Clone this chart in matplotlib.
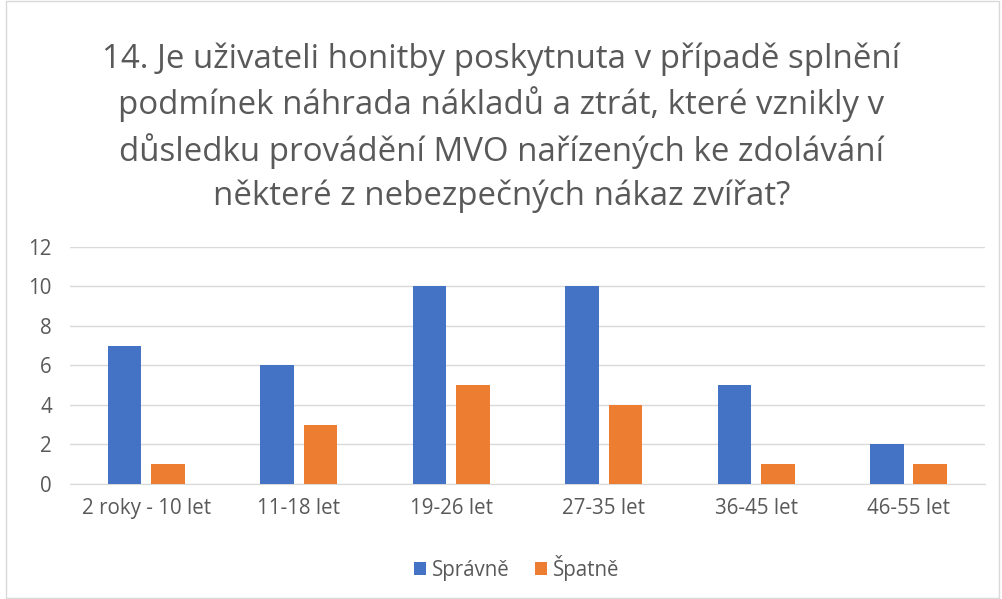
import numpy as np
import matplotlib.pyplot as plt
from matplotlib.patches import Rectangle

plt.rcParams['font.family'] = ['Open Sans', 'DejaVu Sans']

categories = ["2 roky - 10 let", "11-18 let", "19-26 let", "27-35 let", "36-45 let", "46-55 let"]
spravne = [7, 6, 10, 10, 5, 2]
spatne = [1, 3, 5, 4, 1, 1]

title = ("14. Je uživateli honitby poskytnuta v případě splnění\n"
         "podmínek náhrada nákladů a ztrát, které vznikly v\n"
         "důsledku provádění MVO nařízených ke zdolávání\n"
         "některé z nebezpečných nákaz zvířat?")

fig = plt.figure(figsize=(10.03, 5.99), dpi=100)
ax = fig.add_axes([0.0698, 0.192, 0.912, 0.3957])

x = np.arange(len(categories))
w = 0.22
off = 0.1425
ax.bar(x - off, spravne, w, color="#4472C4", label="Správně", zorder=3)
ax.bar(x + off, spatne, w, color="#ED7D31", label="Špatně", zorder=3)

ax.set_ylim(0, 12)
ax.set_yticks(range(0, 13, 2))
ax.set_xlim(-0.5, len(categories) - 0.5)
ax.set_xticks(x)
ax.set_xticklabels(categories)
ax.grid(axis="y", color="#D9D9D9", linewidth=1, zorder=0)
for s in ["top", "right", "left"]:
    ax.spines[s].set_visible(False)
ax.spines["bottom"].set_color("#D9D9D9")
ax.tick_params(axis="both", length=0, labelsize=14.8, colors="#595959")
ax.tick_params(axis="x", pad=10)
ax.tick_params(axis="y", pad=13)

fig.text(0.5, 0.787, title, ha="center", va="center", fontsize=23.8,
         color="#595959", linespacing=1.4)

fig.legend(loc="center", bbox_to_anchor=(0.515, 0.052), ncol=2, frameon=False,
           fontsize=14.8, labelcolor="#595959", handlelength=0.6, handleheight=0.6,
           columnspacing=1.2, handletextpad=0.3)

fig.patches.append(Rectangle((0.006, 0.002), 0.99, 0.996, transform=fig.transFigure,
                             fill=False, edgecolor="#D9D9D9", linewidth=1))

plt.savefig("out.png", dpi=100)
